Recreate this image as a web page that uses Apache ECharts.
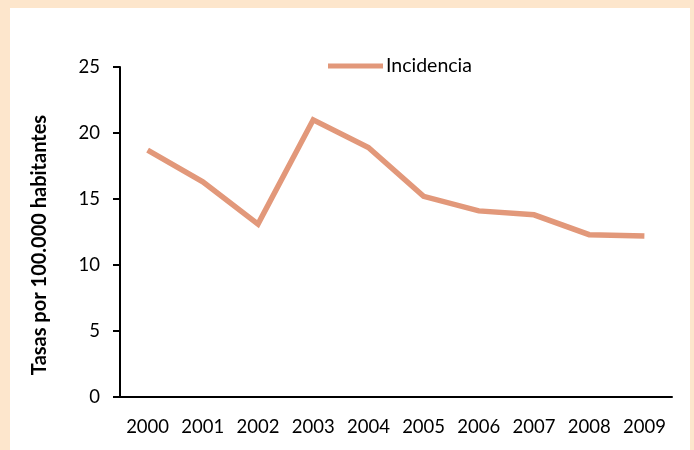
<!DOCTYPE html>
<html>
<head>
<meta charset="utf-8">
<script src="https://cdn.jsdelivr.net/npm/echarts@6/dist/echarts.min.js"></script>
<style>
html,body{margin:0;padding:0;background:#FDE6CC;}
#c{width:694px;height:450px;}
</style>
</head>
<body>
<div id="c"></div>
<script>
const years = ['2000','2001','2002','2003','2004','2005','2006','2007','2008','2009'];
const incidencia = [18.7, 16.3, 13.1, 21.0, 18.9, 15.2, 14.1, 13.8, 12.3, 12.2];
const seriesName = 'Incidencia';
const yAxisTitle = 'Tasas por 100.000 habitantes';

const chart = echarts.init(document.getElementById('c'), null, {renderer:'canvas'});
const font = 'Lato, "Open Sans", sans-serif';
chart.setOption({
  animation:false,
  backgroundColor:'#FDE6CC',
  textStyle:{fontFamily:font},
  graphic:[
    {type:'rect', shape:{x:10,y:8,width:680,height:442}, style:{fill:'#ffffff'}, z:-10, silent:true}
  ],
  grid:{left:120, right:22, top:67, bottom:53, containLabel:false},
  legend:{
    left:328, top:56, padding:0,
    data:[{name:seriesName, icon:'rect'}],
    itemWidth:55, itemHeight:5, itemGap:5,
    textStyle:{fontFamily:font, fontSize:19.5, color:'#000', padding:[0,0,0,-2]}
  },
  xAxis:{
    type:'category', data:years, boundaryGap:true,
    axisLine:{lineStyle:{color:'#000', width:2}},
    axisTick:{show:false},
    axisLabel:{color:'#000', fontSize:18.5, fontFamily:font, margin:21, interval:0, hideOverlap:false}
  },
  yAxis:{
    type:'value', min:0, max:25, interval:5,
    name:yAxisTitle, nameLocation:'middle', nameGap:70,
    nameTextStyle:{fontFamily:font, fontSize:20, fontWeight:'bold', color:'#000', padding:[0,26,0,0]},
    axisLine:{show:true, lineStyle:{color:'#000', width:2}},
    axisTick:{show:true, length:7, lineStyle:{color:'#000', width:2}},
    axisLabel:{color:'#000', fontSize:18.5, fontFamily:font, margin:20},
    splitLine:{show:false}
  },
  series:[{
    name:seriesName, type:'line', data:incidencia,
    symbol:'none',
    lineStyle:{color:'#E2987A', width:5.5, join:'miter'},
    itemStyle:{color:'#E2987A'}
  }]
});
</script>
</body>
</html>
